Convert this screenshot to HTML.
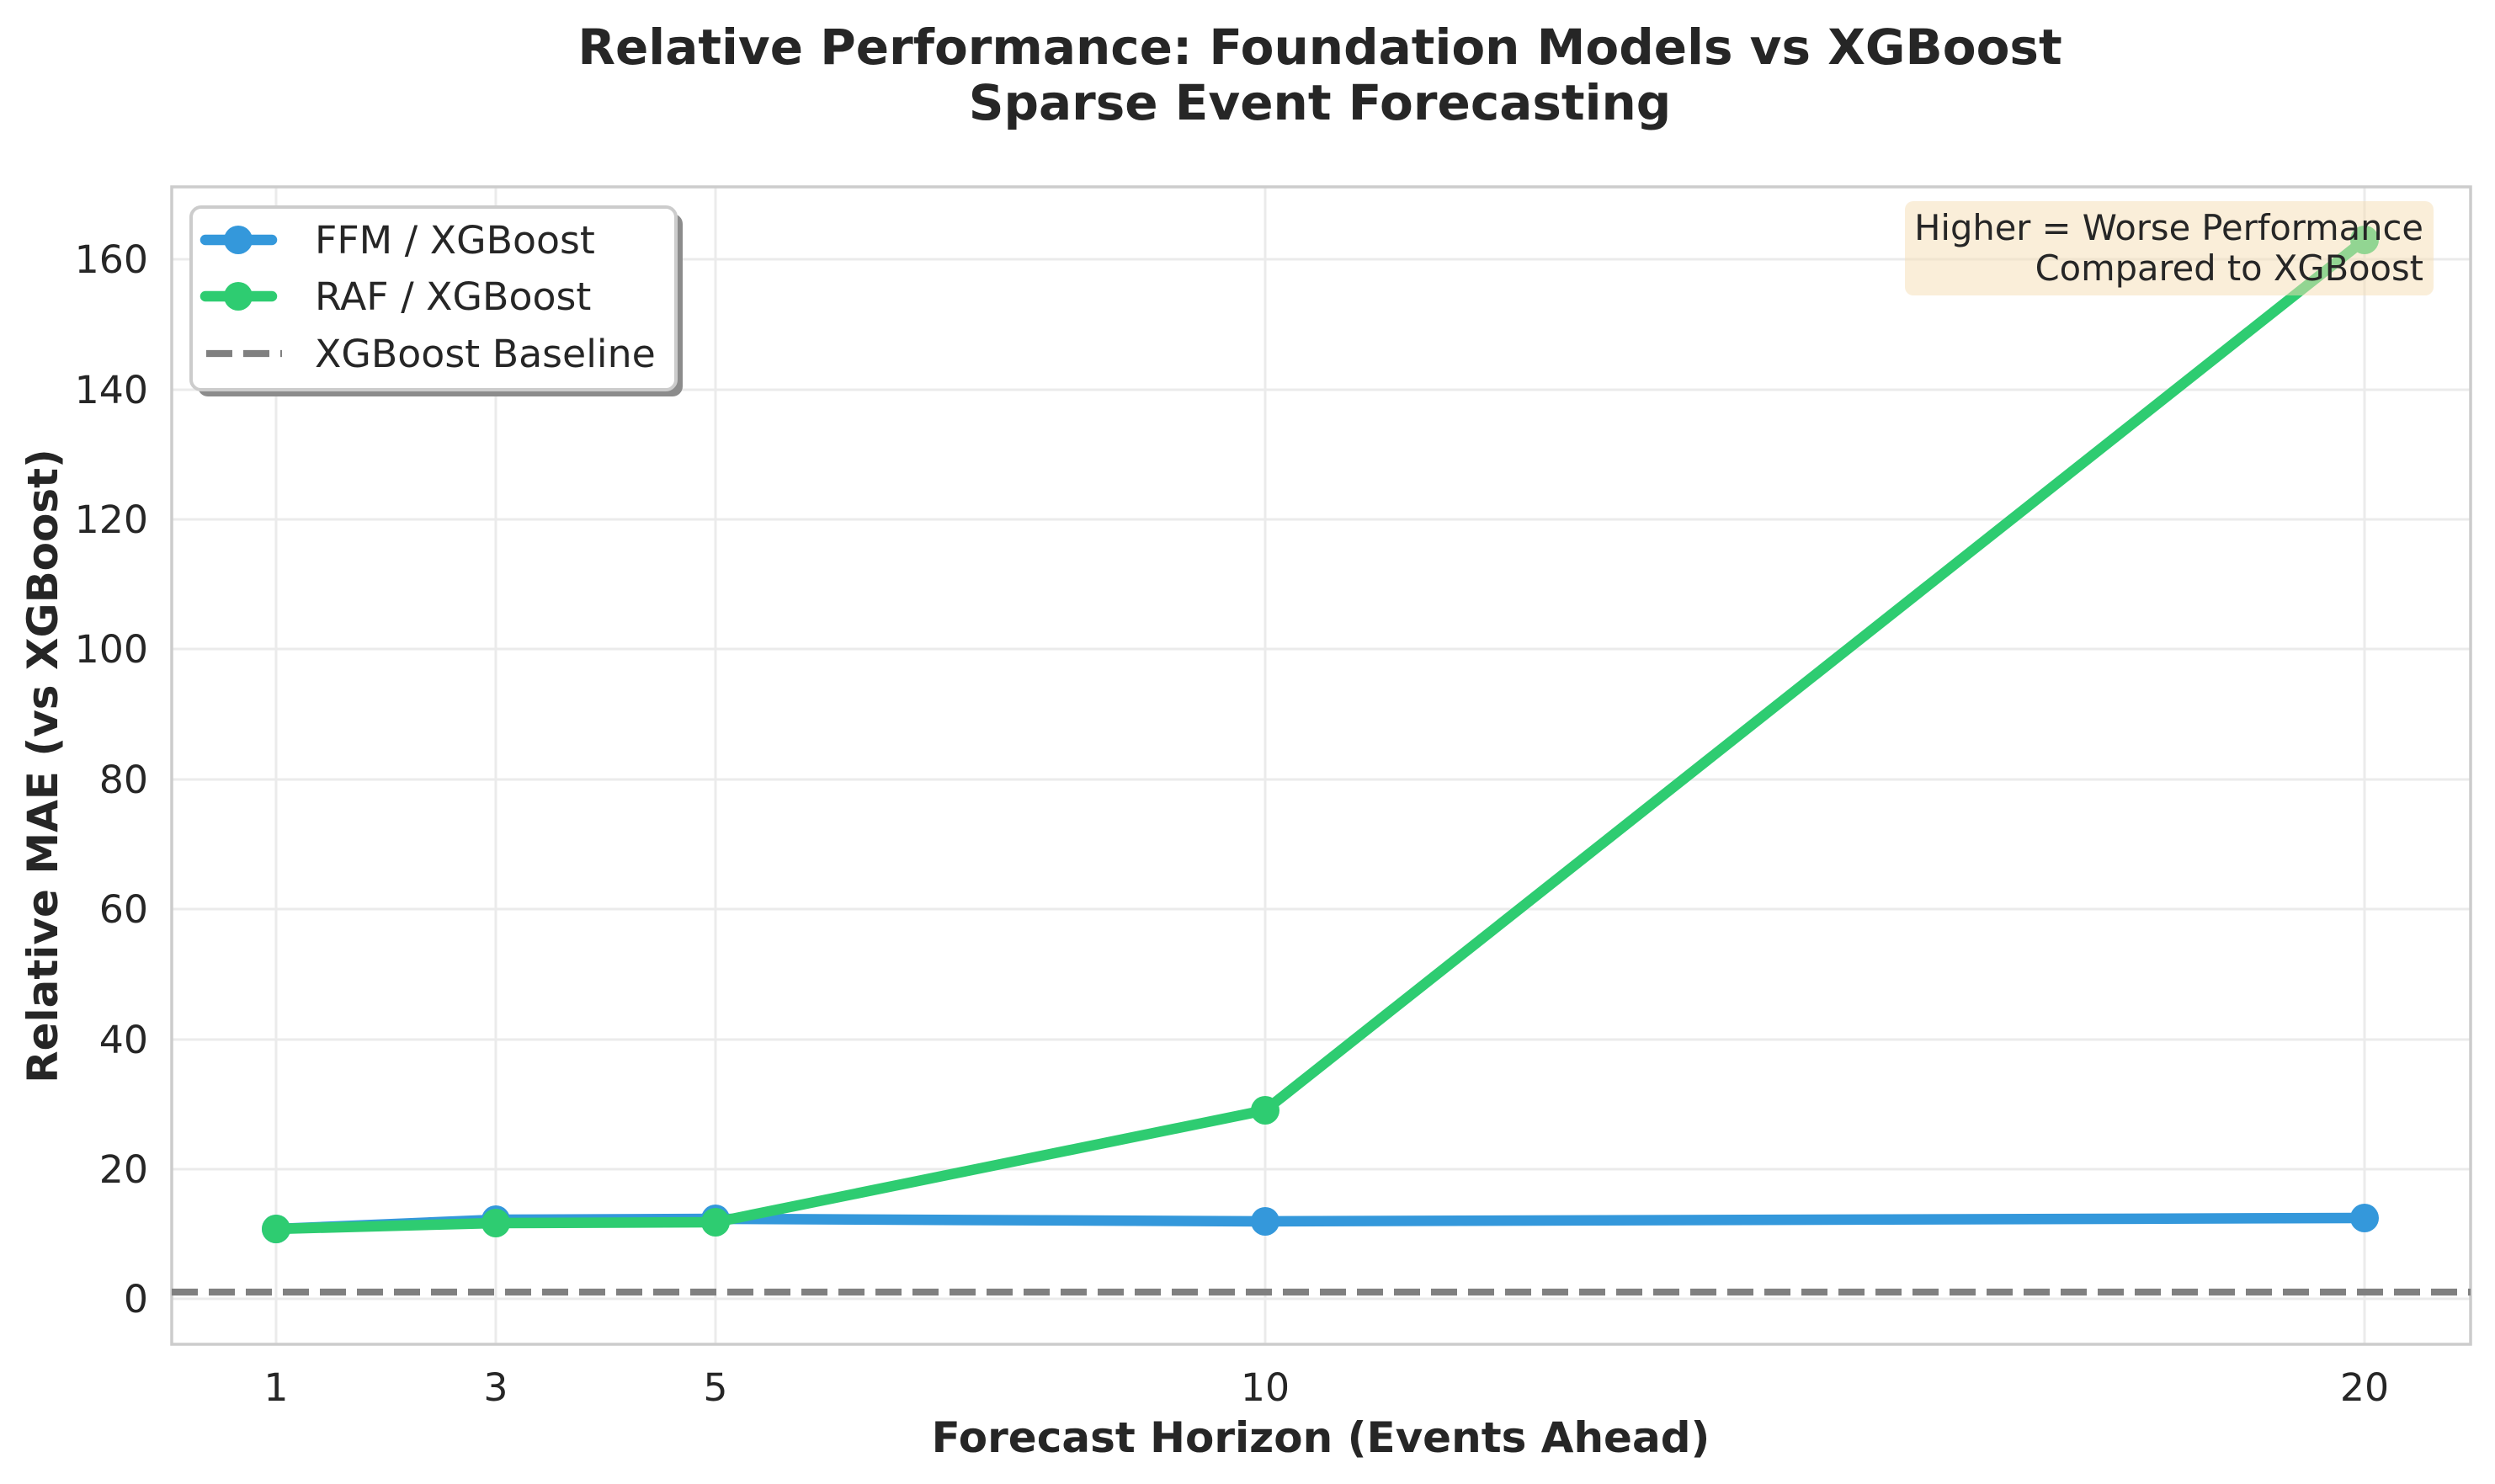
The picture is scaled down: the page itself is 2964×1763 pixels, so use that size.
<!DOCTYPE html>
<html><head><meta charset="utf-8"><style>html,body{margin:0;padding:0;background:#fff}svg{display:block}</style></head>
<body>
<svg width="2964" height="1763" viewBox="0 0 2964 1763" xmlns="http://www.w3.org/2000/svg" font-family="'DejaVu Sans','Liberation Sans',sans-serif">
<rect width="2964" height="1763" fill="#fff"/>
<g stroke="#ebebeb" stroke-width="3">
<line x1="328" y1="222" x2="328" y2="1597"/><line x1="589" y1="222" x2="589" y2="1597"/><line x1="850" y1="222" x2="850" y2="1597"/><line x1="1503" y1="222" x2="1503" y2="1597"/><line x1="2809" y1="222" x2="2809" y2="1597"/>
<line x1="204" y1="1543" x2="2935" y2="1543"/><line x1="204" y1="1389" x2="2935" y2="1389"/><line x1="204" y1="1235" x2="2935" y2="1235"/><line x1="204" y1="1080" x2="2935" y2="1080"/><line x1="204" y1="926" x2="2935" y2="926"/><line x1="204" y1="771" x2="2935" y2="771"/><line x1="204" y1="617" x2="2935" y2="617"/><line x1="204" y1="463" x2="2935" y2="463"/><line x1="204" y1="308" x2="2935" y2="308"/>
</g>
<rect x="204" y="222" width="2731" height="1375" fill="none" stroke="#cccccc" stroke-width="3.5"/>
<line x1="204" y1="1535" x2="2935" y2="1535" stroke="#808080" stroke-width="8.3" stroke-dasharray="31 13"/>
<polyline points="328,1460 589,1449 850,1448 1503,1451 2809,1447" fill="none" stroke="#3498db" stroke-width="12.5" stroke-linejoin="round" stroke-linecap="round"/>
<g fill="#3498db"><circle cx="328" cy="1460" r="17"/><circle cx="589" cy="1449" r="17"/><circle cx="850" cy="1448" r="17"/><circle cx="1503" cy="1451" r="17"/><circle cx="2809" cy="1447" r="17"/></g>
<polyline points="328,1460 589,1453 850,1452 1503,1319 2809,285" fill="none" stroke="#2ecc71" stroke-width="12.5" stroke-linejoin="round" stroke-linecap="round"/>
<g fill="#2ecc71"><circle cx="328" cy="1460" r="17"/><circle cx="589" cy="1453" r="17"/><circle cx="850" cy="1452" r="17"/><circle cx="1503" cy="1319" r="17"/><circle cx="2809" cy="285" r="17"/></g>
<rect x="2263" y="239" width="628" height="112" rx="10" fill="rgba(245,222,179,0.5)"/>
<g font-size="41.6" fill="#262626" text-anchor="end"><text x="2879" y="285">Higher = Worse Performance</text><text x="2879" y="333">Compared to XGBoost</text></g>
<g font-size="45.8" fill="#262626" text-anchor="end">
<text x="176" y="1559">0</text><text x="176" y="1405">20</text><text x="176" y="1251">40</text><text x="176" y="1096">60</text><text x="176" y="942">80</text><text x="176" y="787">100</text><text x="176" y="633">120</text><text x="176" y="479">140</text><text x="176" y="324">160</text>
</g>
<g font-size="45.8" fill="#262626" text-anchor="middle">
<text x="328" y="1664">1</text><text x="589" y="1664">3</text><text x="850" y="1664">5</text><text x="1503" y="1664">10</text><text x="2809" y="1664">20</text>
</g>
<text x="1569" y="1725" font-size="50" font-weight="bold" fill="#262626" text-anchor="middle">Forecast Horizon (Events Ahead)</text>
<text transform="translate(68,910) rotate(-90)" font-size="50" font-weight="bold" fill="#262626" text-anchor="middle">Relative MAE (vs XGBoost)</text>
<g font-size="58" font-weight="bold" fill="#262626" text-anchor="middle">
<text x="1568" y="76">Relative Performance: Foundation Models vs XGBoost</text>
<text x="1568" y="142">Sparse Event Forecasting</text>
</g>
<rect x="235" y="254" width="576" height="217" rx="12" fill="#8c8c8c"/>
<rect x="227" y="246" width="576" height="217" rx="12" fill="#fff" stroke="#cccccc" stroke-width="4"/>
<line x1="244" y1="285" x2="323" y2="285" stroke="#3498db" stroke-width="12.5" stroke-linecap="round"/>
<circle cx="283" cy="285" r="17" fill="#3498db"/>
<line x1="244" y1="352" x2="323" y2="352" stroke="#2ecc71" stroke-width="12.5" stroke-linecap="round"/>
<circle cx="283" cy="352" r="17" fill="#2ecc71"/>
<line x1="245" y1="420" x2="335" y2="420" stroke="#808080" stroke-width="8.3" stroke-dasharray="31 13"/>
<g font-size="45.8" fill="#262626">
<text x="374" y="301">FFM / XGBoost</text><text x="374" y="368">RAF / XGBoost</text><text x="374" y="436">XGBoost Baseline</text>
</g>
</svg>
</body></html>
